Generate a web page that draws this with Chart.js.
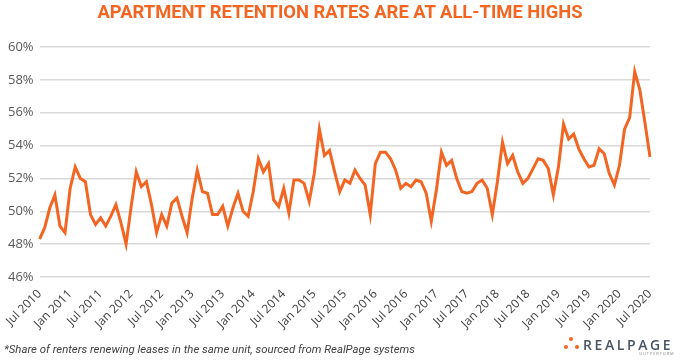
<!DOCTYPE html>
<html>
<head>
<meta charset="utf-8">
<script src="https://cdn.jsdelivr.net/npm/chart.js@4"></script>
<style>
  html, body { margin: 0; padding: 0; background: #fff; }
  #wrap { position: relative; width: 680px; height: 361px; }
  #title { position: absolute; left: 0; top: 1px; width: 680px; text-align: center; font: bold 18.4px Roboto, sans-serif; color: #f26522; white-space: nowrap; }
  #note { position: absolute; left: 4px; top: 342px; font: italic 11.4px Roboto, sans-serif; color: #404040; white-space: nowrap; }
  #logo { position: absolute; left: 563px; top: 336px; width: 115px; height: 22px; }
  .dot { position: absolute; width: 4px; height: 4px; border-radius: 50%; background: #f26522; }
  #brand { position: absolute; left: 20px; top: -1px; font: 600 14px "Open Sans", sans-serif; letter-spacing: 2.6px; color: #4a5563; }
  #sub { position: absolute; left: 76px; top: 15px; font: 4px "Open Sans", sans-serif; letter-spacing: 0.9px; color: #888; }
</style>
</head>
<body>
<div id="wrap">
  <canvas id="chart" width="680" height="361"></canvas>
  <div id="title">APARTMENT RETENTION RATES ARE AT ALL-TIME HIGHS</div>
  <div id="note">*Share of renters renewing leases in the same unit, sourced from RealPage systems</div>
  <div id="logo">
    <div class="dot" style="left:6px;top:1px"></div>
    <div class="dot" style="left:1px;top:9px"></div>
    <div class="dot" style="left:12px;top:9px"></div>
    <div id="brand">REALPAGE</div>
    <div id="sub">OUTPERFORM</div>
  </div>
</div>
<script>
// Monthly retention rate (%), Jul 2010 - Jul 2020
const retention = [
  48.3, 49.0, 50.2, 51.0, 49.1, 48.7, 51.4, 52.7, 52.0, 51.8,
  49.8, 49.2, 49.6, 49.1, 49.7, 50.4, 49.3, 48.0, 50.3, 52.4,
  51.5, 51.8, 50.4, 48.7, 49.8, 49.1, 50.5, 50.8, 49.7, 48.7,
  50.8, 52.5, 51.2, 51.1, 49.8, 49.8, 50.3, 49.1, 50.2, 51.1,
  50.0, 49.7, 51.2, 53.2, 52.4, 52.9, 50.7, 50.3, 51.4, 49.9,
  51.9, 51.9, 51.7, 50.6, 52.3, 55.0, 53.4, 53.7, 52.4, 51.2,
  51.9, 51.7, 52.5, 52.0, 51.6, 49.8, 52.9, 53.6, 53.6, 53.2,
  52.5, 51.4, 51.7, 51.5, 51.9, 51.8, 51.1, 49.4, 51.3, 53.6,
  52.8, 53.1, 52.0, 51.2, 51.1, 51.2, 51.7, 51.9, 51.4, 49.8,
  51.8, 54.2, 52.9, 53.4, 52.4, 51.7, 52.0, 52.6, 53.2, 53.1,
  52.6, 51.0, 52.7, 55.3, 54.4, 54.7, 53.8, 53.2, 52.7, 52.8,
  53.8, 53.5, 52.3, 51.6, 52.8, 55.0, 55.7, 58.5, 57.4, 55.4,
  53.3
];

const monthNames = ["Jan","Feb","Mar","Apr","May","Jun","Jul","Aug","Sep","Oct","Nov","Dec"];
const tickLabels = [
  "Jul 2010","Jan 2011","Jul 2011","Jan 2012","Jul 2012","Jan 2013","Jul 2013",
  "Jan 2014","Jul 2014","Jan 2015","Jul 2015","Jan 2016","Jul 2016","Jan 2017",
  "Jul 2017","Jan 2018","Jul 2018","Jan 2019","Jul 2019","Jan 2020","Jul 2020"
];
const yTicks = [46, 48, 50, 52, 54, 56, 58, 60];

// month labels for every point
const months = [];
for (let i = 0; i < retention.length; i++) {
  const m = (6 + i) % 12;
  const y = 2010 + Math.floor((6 + i) / 12);
  months.push(monthNames[m] + " " + y);
}

const orange = "#f26522";

new Chart(document.getElementById("chart"), {
  type: "line",
  data: {
    labels: months,
    datasets: [{
      data: retention,
      borderColor: orange,
      borderWidth: 3,
      pointRadius: 0,
      tension: 0,
      fill: false
    }]
  },
  options: {
    responsive: false,
    animation: false,
    layout: { padding: { left: 2, right: 30, top: 47, bottom: 28 } },
    plugins: {
      legend: { display: false },
      tooltip: { enabled: false }
    },
    scales: {
      x: {
        grid: { display: false },
        border: { display: false },
        ticks: {
          autoSkip: false,
          maxRotation: 45,
          minRotation: 45,
          color: "#404040",
          font: { family: "'Open Sans', sans-serif", size: 12 },
          padding: 2,
          callback: function (val) {
            const lab = this.getLabelForValue(val);
            return tickLabels.includes(lab) ? lab : "";
          }
        }
      },
      y: {
        min: yTicks[0],
        max: yTicks[yTicks.length - 1],
        grid: { color: "#d9d9d9", lineWidth: 1.5, drawTicks: false },
        border: { display: false },
        afterBuildTicks: (axis) => { axis.ticks = yTicks.map(v => ({ value: v })); },
        ticks: {
          color: "#595959",
          padding: 6,
          font: { family: "'Open Sans', sans-serif", size: 13 },
          callback: (v) => v + "%"
        }
      }
    }
  }
});
</script>
</body>
</html>
